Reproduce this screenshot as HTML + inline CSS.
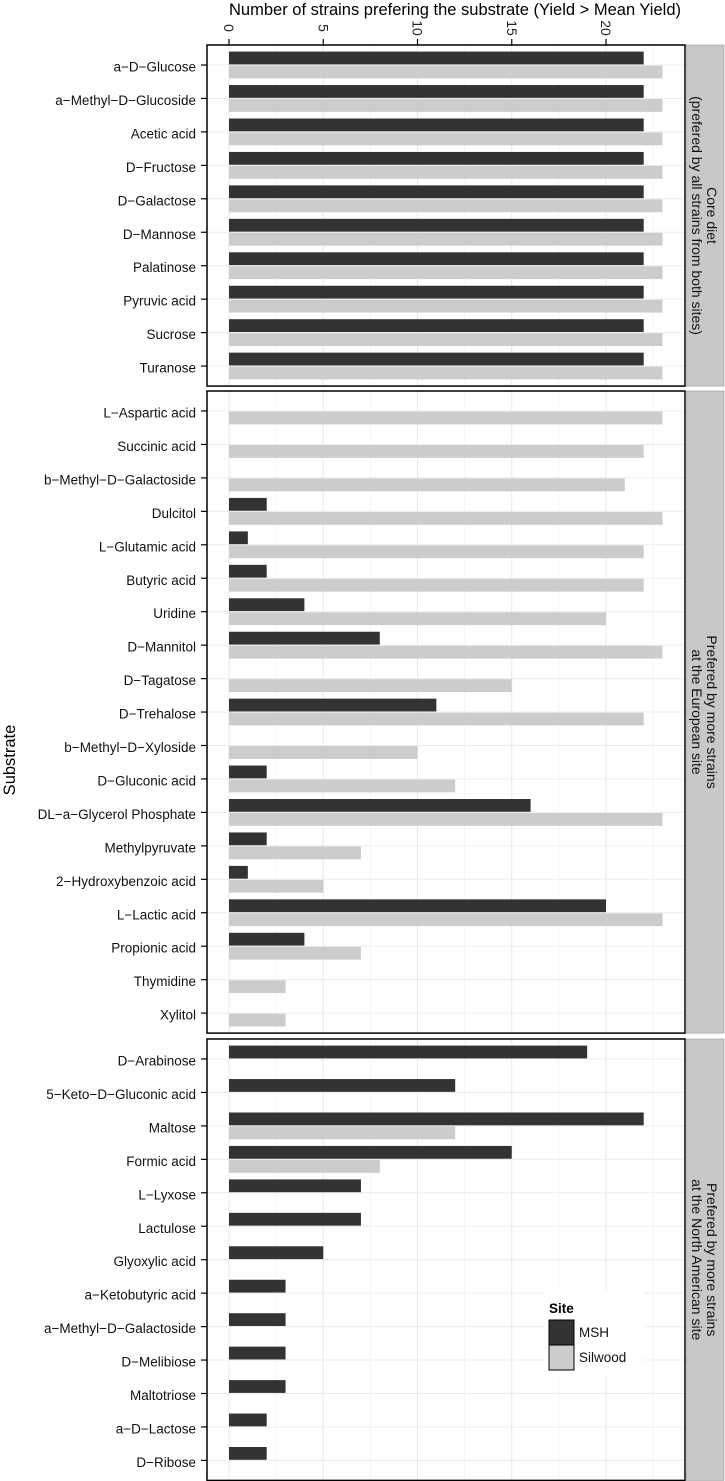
<!DOCTYPE html>
<html><head><meta charset="utf-8"><style>
html,body{margin:0;padding:0;background:#fff;}
svg{display:block;font-family:"Liberation Sans",Arial,sans-serif;}
</style></head><body>
<svg id="chart" width="725" height="1481" viewBox="0 0 725 1481"></svg>
<script>
const panelTitles = [["Core diet","(prefered by all strains from both sites)"],["Prefered by more strains","at the European site"],["Prefered by more strains","at the North American site"]];
const cats1 = ["a\u2212D\u2212Glucose","a\u2212Methyl\u2212D\u2212Glucoside","Acetic acid","D\u2212Fructose","D\u2212Galactose","D\u2212Mannose","Palatinose","Pyruvic acid","Sucrose","Turanose"];
const msh1 = [22,22,22,22,22,22,22,22,22,22];
const sil1 = [23,23,23,23,23,23,23,23,23,23];
const cats2 = ["L\u2212Aspartic acid","Succinic acid","b\u2212Methyl\u2212D\u2212Galactoside","Dulcitol","L\u2212Glutamic acid","Butyric acid","Uridine","D\u2212Mannitol","D\u2212Tagatose","D\u2212Trehalose","b\u2212Methyl\u2212D\u2212Xyloside","D\u2212Gluconic acid","DL\u2212a\u2212Glycerol Phosphate","Methylpyruvate","2\u2212Hydroxybenzoic acid","L\u2212Lactic acid","Propionic acid","Thymidine","Xylitol"];
const msh2 = [0,0,0,2,1,2,4,8,0,11,0,2,16,2,1,20,4,0,0];
const sil2 = [23,22,21,23,22,22,20,23,15,22,10,12,23,7,5,23,7,3,3];
const cats3 = ["D\u2212Arabinose","5\u2212Keto\u2212D\u2212Gluconic acid","Maltose","Formic acid","L\u2212Lyxose","Lactulose","Glyoxylic acid","a\u2212Ketobutyric acid","a\u2212Methyl\u2212D\u2212Galactoside","D\u2212Melibiose","Maltotriose","a\u2212D\u2212Lactose","D\u2212Ribose"];
const msh3 = [19,12,22,15,7,7,5,3,3,3,3,2,2];
const sil3 = [0,0,12,8,0,0,0,0,0,0,0,0,0];
const xTicks = [0,5,10,15,20];

const NS="http://www.w3.org/2000/svg";
const svg=document.getElementById('chart');
function mk(tag,attrs,parent){const e=document.createElementNS(NS,tag);for(const k in attrs)e.setAttribute(k,attrs[k]);(parent||svg).appendChild(e);return e;}
const X0=229, PX=18.85;
function xs(v){return X0+v*PX;}
const PL=207, PR=685, STEP=33.45, PAD=20;
const panels=[{cats:cats1,m:msh1,s:sil1,top:45},{cats:cats2,m:msh2,s:sil2,top:391},{cats:cats3,m:msh3,s:sil3,top:1039}];
const BH=13.4;

let t=mk('text',{x:455,y:15,'text-anchor':'middle','font-size':'16.5',fill:'#000'});
t.textContent="Number of strains prefering the substrate (Yield > Mean Yield)";


xTicks.forEach(v=>{
  const l=mk('text',{transform:`translate(${xs(v)-5},28) rotate(90)`,'text-anchor':'middle','font-size':'14',fill:'#222'});
  l.textContent=String(v);
  
  
  mk('line',{x1:xs(v),x2:xs(v),y1:39,y2:45,stroke:'#000','stroke-width':1.2});
});
t=mk('text',{transform:'translate(15,760) rotate(-90)','text-anchor':'middle','font-size':'16.5',fill:'#000'});
t.textContent="Substrate";



panels.forEach((p,pi)=>{
  const n=p.cats.length;
  const bottom=p.top+PAD*2+STEP*(n-1);
  const g=mk('g',{});
  
  
  mk('rect',{x:PL,y:p.top,width:PR-PL,height:bottom-p.top,fill:'#fff'},g);
  for(let v=2.5;v<25;v+=5){const x=xs(v);if(x<PR)mk('line',{x1:x,x2:x,y1:p.top,y2:bottom,stroke:'#f3f3f3','stroke-width':0.8},g);}
  xTicks.concat([25]).forEach(v=>{const x=xs(v);if(x<PR)mk('line',{x1:x,x2:x,y1:p.top,y2:bottom,stroke:'#e8e8e8','stroke-width':1},g);});
  p.cats.forEach((c,i)=>{
    const y=p.top+PAD+i*STEP;
    mk('line',{x1:PL,x2:PR,y1:y,y2:y,stroke:'#ececec','stroke-width':1},g);
    mk('line',{x1:201,x2:PL,y1:y,y2:y,stroke:'#000','stroke-width':1.2},g);
    const lab=mk('text',{x:196,y:y+6.5,'text-anchor':'end','font-size':'13.5',fill:'#111'},g);
    lab.textContent=c;
    
    
  });
  p.cats.forEach((c,i)=>{
    const y=p.top+PAD+i*STEP;
    if(p.m[i]>0){const b=mk('rect',{x:X0,y:y-BH,width:p.m[i]*PX,height:BH-0.6,fill:'#333333'},g);
      
      }
    if(p.s[i]>0){const b=mk('rect',{x:X0,y:y+0.6,width:p.s[i]*PX,height:BH-0.6,fill:'#cccccc'},g);
      
      }
  });
  mk('rect',{x:PL,y:p.top,width:PR-PL,height:bottom-p.top,fill:'none',stroke:'#000','stroke-width':1.5},g);
  const s=mk('rect',{x:686,y:p.top,width:38,height:bottom-p.top,fill:'#c8c8c8',stroke:'#999','stroke-width':0.6},g);
  
  
  const cy=(p.top+bottom)/2;
  const st=mk('text',{transform:`translate(704,${cy}) rotate(90)`,'text-anchor':'middle','font-size':'14',fill:'#111'},g);
  
  
  const a=mk('tspan',{x:0,y:-3},st);a.textContent=panelTitles[pi][0];
  const b=mk('tspan',{x:0,y:12},st);b.textContent=panelTitles[pi][1];
});

const lg=mk('g',{});


mk('rect',{x:544,y:1290,width:100,height:86,fill:'#fff'},lg);
t=mk('text',{x:549,y:1313,'font-size':'13.5','font-weight':'bold',fill:'#000'},lg);t.textContent="Site";
[['MSH','#333333'],['Silwood','#cccccc']].forEach((e,i)=>{
  const y=1320+i*25;
  const r=mk('rect',{x:549,y:y,width:25,height:25,fill:e[1],stroke:'#000','stroke-width':1},lg);
  
  
  const tx=mk('text',{x:579,y:y+17,'font-size':'13.5',fill:'#111'},lg);tx.textContent=e[0];
  
  
});
</script>
</body></html>
